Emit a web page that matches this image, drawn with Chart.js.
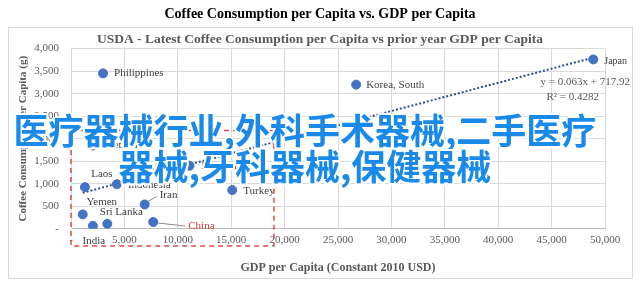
<!DOCTYPE html>
<html>
<head>
<meta charset="utf-8">
<title>Coffee Consumption per Capita vs. GDP per Capita</title>
<script src="https://cdn.jsdelivr.net/npm/chart.js@4.4.0/dist/chart.umd.min.js"></script>
<style>
  html, body { margin: 0; padding: 0; background: #fff; }
  #wrap { position: relative; width: 640px; height: 285px; overflow: hidden; }
  #overlay {
    position: absolute; left: 0; top: 111px; width: 610px;
    text-align: center; white-space: nowrap;
    font-family: "Noto Sans CJK SC", sans-serif; font-weight: bold;
    font-size: 35px; line-height: 36px; color: #1a8aea;
    text-shadow: 2px 0 #fff, -2px 0 #fff, 0 2px #fff, 0 -2px #fff,
                 1.5px 1.5px #fff, -1.5px 1.5px #fff, 1.5px -1.5px #fff, -1.5px -1.5px #fff;
    pointer-events: none;
  }
</style>
</head>
<body>
<div id="wrap">
  <canvas id="grafico" width="640" height="285"></canvas>
  <div id="overlay">医疗器械行业,外科手术器械,二手医疗<br>器械,牙科器械,保健器械</div>
</div>
<script>
// Dados
const countries = ['Philippines', 'Korea, South', 'Japan', 'Vietnam', 'Laos', 'Indonesia', 'Thailand',
                   'Malaysia', 'Iran', 'Turkey', 'Yemen', 'Sri Lanka', 'India', 'China'];
const gdpPerCapita = [3000, 26700, 48900, 2000, 1300, 4300, 5300, 11100, 6900, 15100, 1100, 3400, 2050, 7700];
const coffeePerCapita = [3450, 3200, 3760, 1850, 925, 990, 1380, 1400, 540, 860, 320, 110, 65, 150];

// linha de tendência (pontas)
const trendX = [1100, 48900];
const trendY = [800, 3800];

const xTickLabels = ['-', '5,000', '10,000', '15,000', '20,000', '25,000', '30,000', '35,000', '40,000', '45,000', '50,000'];
const yTickLabels = ['-', '500', '1,000', '1,500', '2,000', '2,500', '3,000', '3,500', '4,000'];

// caixa vermelha tracejada (em unidades dos eixos)
const boxX = [0, 19000];
const boxY = [-380, 2180];

const equationText = 'y = 0.063x + 717.92';
const r2Text = 'R² = 0.4282';

// posição dos rótulos relativa a cada ponto
const labelStyle = [
    { dx: 11, dy: 0, align: 'left' },                  // Philippines
    { dx: 10, dy: 0, align: 'left' },                  // Korea, South
    { dx: 11, dy: 2, align: 'left', size: 10 },        // Japan
    { dx: 11, dy: 0, align: 'left' },                  // Vietnam
    { dx: 17, dy: -13, align: 'center' },              // Laos
    { dx: 11, dy: 1, align: 'left' },                  // Indonesia
    { dx: 10, dy: 0, align: 'left' },                  // Thailand
    { dx: 12, dy: 0, align: 'left' },                  // Malaysia
    { dx: 15, dy: -9, align: 'left', leader: [3, -3, 12, -8] },   // Iran
    { dx: 11, dy: 1, align: 'left' },                  // Turkey
    { dx: 19, dy: -12, align: 'center' },              // Yemen
    { dx: 14, dy: -12, align: 'center' },              // Sri Lanka
    { dx: 1, dy: 15, align: 'center' },                // India
    { dx: 35, dy: 4, align: 'left', color: '#d03a3a', leader: [5, 1, 32, 4] }  // China
];

const serif = '"Liberation Serif", "Times New Roman", serif';
const textGray = '#595959';

const points = countries.map((c, i) => ({ x: gdpPerCapita[i], y: coffeePerCapita[i] }));
const trend = trendX.map((x, i) => ({ x: x, y: trendY[i] }));

// moldura e fundo
const framePlugin = {
    id: 'frame',
    beforeDraw(chart) {
        const ctx = chart.ctx;
        ctx.save();
        ctx.fillStyle = '#fff';
        ctx.fillRect(0, 0, chart.width, chart.height);
        ctx.strokeStyle = '#d9d9d9';
        ctx.lineWidth = 1;
        ctx.strokeRect(8.5, 27.5, 624, 251);
        ctx.restore();
    }
};

// rótulos, caixa vermelha e equação
const annotPlugin = {
    id: 'annot',
    afterDatasetsDraw(chart) {
        const ctx = chart.ctx;
        const xs = chart.scales.x, ys = chart.scales.y;
        const meta = chart.getDatasetMeta(0);
        ctx.save();
        ctx.textBaseline = 'middle';
        meta.data.forEach((pt, i) => {
            const st = labelStyle[i];
            if (st.leader) {
                ctx.strokeStyle = '#8c8c8c';
                ctx.lineWidth = 1;
                ctx.beginPath();
                ctx.moveTo(pt.x + st.leader[0], pt.y + st.leader[1]);
                ctx.lineTo(pt.x + st.leader[2], pt.y + st.leader[3]);
                ctx.stroke();
            }
            ctx.font = (st.size || 11) + 'px ' + serif;
            ctx.fillStyle = st.color || '#404040';
            ctx.textAlign = st.align;
            ctx.fillText(countries[i], pt.x + st.dx, pt.y + st.dy);
        });

        // caixa tracejada
        const l = xs.getPixelForValue(boxX[0]), r = xs.getPixelForValue(boxX[1]);
        const t = ys.getPixelForValue(boxY[1]), b = ys.getPixelForValue(boxY[0]);
        ctx.strokeStyle = '#e04a4a';
        ctx.lineWidth = 1.5;
        ctx.setLineDash([5, 4]);
        ctx.strokeRect(l, t, r - l, b - t);
        ctx.setLineDash([]);

        // equação da tendência
        const area = chart.chartArea;
        ctx.font = '11px ' + serif;
        ctx.fillStyle = textGray;
        ctx.textAlign = 'right';
        ctx.fillText(equationText, area.right + 25, area.top + 34);
        ctx.fillText(r2Text, area.right - 6, area.top + 49);
        ctx.restore();
    }
};

new Chart(document.getElementById('grafico'), {
    type: 'scatter',
    data: {
        datasets: [{
            label: 'Countries',
            data: points,
            backgroundColor: '#4472c4',
            borderColor: '#4472c4',
            pointRadius: 4.5,
            pointHoverRadius: 4.5
        }, {
            type: 'line',
            label: 'Trend',
            data: trend,
            borderColor: '#2f4d8c',
            borderWidth: 2,
            borderDash: [2, 2],
            pointRadius: 0,
            fill: false
        }]
    },
    options: {
        responsive: false,
        animation: false,
        devicePixelRatio: 1,
        layout: { padding: { left: 10, right: 10, top: 0, bottom: 10 } },
        plugins: {
            legend: { display: false },
            tooltip: { enabled: false },
            title: {
                display: true,
                text: 'Coffee Consumption per Capita vs. GDP per Capita',
                color: '#000',
                font: { family: serif, size: 14, weight: 'bold' },
                padding: { top: 6, bottom: 9 }
            },
            subtitle: {
                display: true,
                text: 'USDA - Latest Coffee Consumption per Capita vs prior year GDP per Capita',
                color: textGray,
                font: { family: serif, size: 13.5, weight: 'bold' },
                padding: { top: 0, bottom: 0.6 }
            }
        },
        scales: {
            x: {
                type: 'linear',
                min: 0, max: 50000,
                ticks: {
                    stepSize: 5000,
                    autoSkip: false,
                    maxRotation: 0,
                    padding: 5,
                    color: textGray,
                    font: { family: serif, size: 11 },
                    callback: v => xTickLabels[Math.round(v / 5000)]
                },
                grid: { color: '#d9d9d9', drawTicks: false },
                border: { color: '#bfbfbf' },
                title: {
                    display: true,
                    text: 'GDP per Capita (Constant 2010 USD)',
                    color: textGray,
                    font: { family: serif, size: 12, weight: 'bold' },
                    padding: { top: 8.6, bottom: 0 }
                }
            },
            y: {
                min: 0, max: 4000,
                afterFit(scale) { scale.width = 61; },
                ticks: {
                    stepSize: 500,
                    padding: 12,
                    color: textGray,
                    font: { family: serif, size: 11 },
                    callback: v => yTickLabels[Math.round(v / 500)]
                },
                grid: { color: '#d9d9d9', drawTicks: false },
                border: { color: '#d9d9d9' },
                title: {
                    display: true,
                    text: 'Coffee Consumption per Capita (g)',
                    color: textGray,
                    font: { family: serif, size: 11, weight: 'bold' },
                    padding: { top: 7, bottom: 0 }
                }
            },
            // eixo vazio à direita, só para reservar a margem
            yRight: {
                type: 'linear',
                position: 'right',
                min: 0, max: 4000,
                afterFit(scale) { scale.width = 25; },
                ticks: { display: false },
                grid: { display: false, drawOnChartArea: false },
                border: { display: false }
            }
        }
    },
    plugins: [framePlugin, annotPlugin]
});
</script>
</body>
</html>
